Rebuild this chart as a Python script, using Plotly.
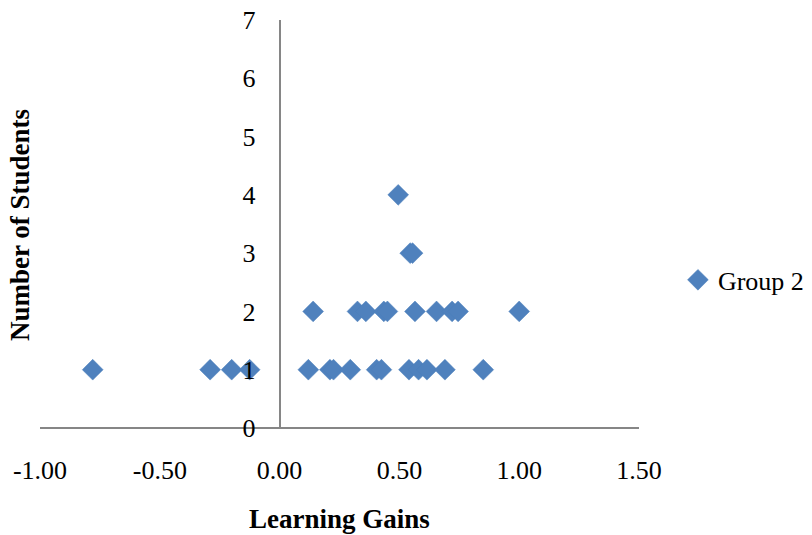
import plotly.graph_objects as go

# Learning gains (x) and number of students (y) for Group 2
gains = [-0.78, -0.29, -0.20, -0.125,
         0.12, 0.21, 0.225, 0.295, 0.405, 0.425, 0.54, 0.58, 0.615, 0.69, 0.85,
         0.14, 0.325, 0.36, 0.435, 0.45, 0.565, 0.655, 0.72, 0.745, 1.00,
         0.545, 0.555, 0.495]
students = [1, 1, 1, 1,
            1, 1, 1, 1, 1, 1, 1, 1, 1, 1, 1,
            2, 2, 2, 2, 2, 2, 2, 2, 2, 2,
            3, 3, 4]
series_name = "Group 2"
x_ticks = [-1.0, -0.5, 0.0, 0.5, 1.0, 1.5]
x_tick_labels = ["-1.00", "-0.50", "0.00", "0.50", "1.00", "1.50"]
y_ticks = [0, 1, 2, 3, 4, 5, 6, 7]

FONT = "Liberation Serif, Times New Roman, serif"
AXIS_COLOR = "#868686"

fig = go.Figure()
fig.add_trace(go.Scatter(
    x=gains, y=students, mode="markers", name=series_name,
    marker=dict(symbol="diamond", size=16, color="#4F81BD",
                line=dict(width=0.5, color="#4A7EBB")),
    showlegend=True,
))

fig.update_layout(
    width=812, height=535,
    margin=dict(l=40, r=173, t=20, b=107, autoexpand=False),
    plot_bgcolor="white", paper_bgcolor="white",
    font=dict(family=FONT, size=26, color="black"),
    xaxis=dict(
        range=[-1.0, 1.5], tickvals=x_ticks, ticktext=x_tick_labels,
        showgrid=False, zeroline=True, zerolinecolor=AXIS_COLOR, zerolinewidth=1.5,
        showline=False, ticks="outside", ticklen=19, tickcolor="rgba(0,0,0,0)",
        tickfont=dict(family=FONT, size=26), automargin=False,
        ticklabeloverflow="allow",
    ),
    yaxis=dict(
        range=[0, 7], tickvals=y_ticks, showgrid=False,
        zeroline=True, zerolinecolor=AXIS_COLOR, zerolinewidth=1.5,
        showline=False, anchor="free", position=0.4,
        ticks="outside", ticklen=19, tickcolor="rgba(0,0,0,0)",
        tickfont=dict(family=FONT, size=26), automargin=False,
        ticklabeloverflow="allow",
    ),
    legend=dict(x=1.065, y=0.363, xanchor="left", yanchor="middle",
                font=dict(family=FONT, size=26), bgcolor="rgba(0,0,0,0)"),
    annotations=[
        dict(text="<b>Learning Gains</b>", xref="paper", yref="paper",
             x=0.5, y=-0.223, xanchor="center", yanchor="middle", showarrow=False,
             font=dict(family=FONT, size=27)),
        dict(text="<b>Number of Students</b>", xref="paper", yref="paper",
             x=-0.0334, y=0.4975, xanchor="center", yanchor="middle", showarrow=False,
             textangle=-90, font=dict(family=FONT, size=27)),
    ],
)

fig.write_html("out.html",
               config={"displayModeBar": False},
               post_script="document.body.style.margin='0';document.body.style.overflow='hidden';")
